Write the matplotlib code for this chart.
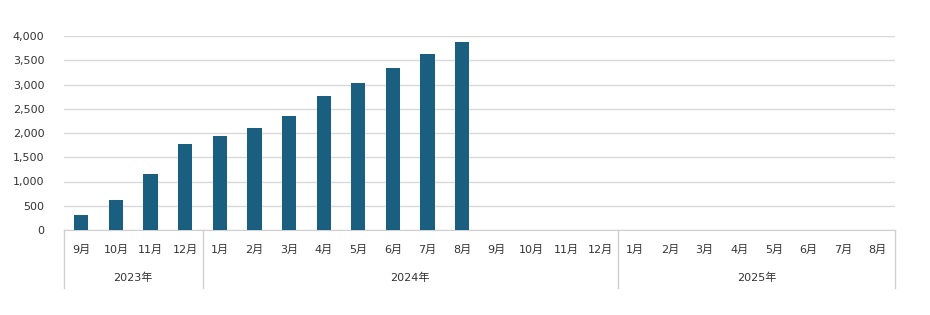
import matplotlib
matplotlib.use("Agg")
import matplotlib.pyplot as plt
import matplotlib.transforms as mtransforms

plt.rcParams['font.family'] = ['DejaVu Sans', 'Noto Sans CJK JP']

years = ["2023年", "2024年", "2025年"]
months_2023 = ["9月", "10月", "11月", "12月"]
months_2024 = ["1月", "2月", "3月", "4月", "5月", "6月", "7月", "8月", "9月", "10月", "11月", "12月"]
months_2025 = ["1月", "2月", "3月", "4月", "5月", "6月", "7月", "8月"]
values = [310, 620, 1160, 1780, 1940, 2110, 2360, 2760, 3040, 3330, 3620, 3870]
yticks = [0, 500, 1000, 1500, 2000, 2500, 3000, 3500, 4000]

groups = [months_2023, months_2024, months_2025]
labels = months_2023 + months_2024 + months_2025
n = len(labels)
x = list(range(n))

fig = plt.figure(figsize=(9.3, 3.15), dpi=100)
ax = fig.add_axes([64/930, 85/315, (895-64)/930, (230-36)/315])

ax.bar(x[:len(values)], values, width=0.41, color="#1b5f80", zorder=3)
ax.set_xlim(-0.5, n - 0.5)
ax.set_ylim(0, 4000)
ax.set_yticks(yticks)
ax.set_yticklabels([f"{v:,}" for v in yticks], fontsize=8, color="#333333")
ax.yaxis.grid(True, color="#d9d9d9", linewidth=1, zorder=0)
for s in ["top", "right", "left"]:
    ax.spines[s].set_visible(False)
ax.spines["bottom"].set_color("#d0d0d0")
ax.tick_params(axis="y", length=0, pad=14)
ax.set_xticks(x)
ax.set_xticklabels(labels, fontsize=8, color="#333333")
ax.tick_params(axis="x", length=0, pad=11)

trans = mtransforms.blended_transform_factory(ax.transData, ax.transAxes)
start = 0
bounds = [-0.5]
for yr, g in zip(years, groups):
    end = start + len(g)
    ax.text((start + end - 1) / 2, -0.245, yr, transform=trans, ha="center", va="center",
            fontsize=8, color="#333333")
    bounds.append(end - 0.5)
    start = end
for b in bounds:
    ax.plot([b, b], [0, -0.30], transform=trans, color="#d0d0d0", linewidth=1, clip_on=False)

fig.savefig("out.png", dpi=100)
